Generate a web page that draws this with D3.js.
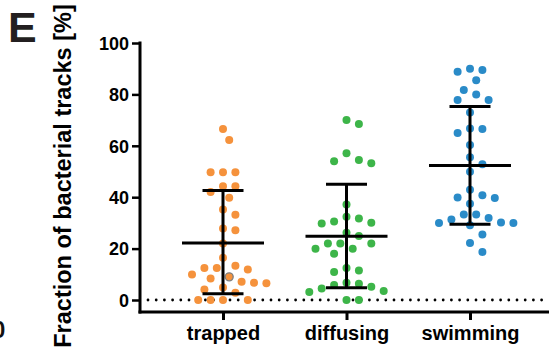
<!DOCTYPE html>
<html><head><meta charset="utf-8">
<script src="https://cdn.jsdelivr.net/npm/d3@7"></script>
<style>body{margin:0;background:#fff}svg{display:block}text{font-family:"Liberation Sans",Arial,sans-serif;font-weight:bold}</style>
</head><body><svg id="c" width="549" height="350"></svg>
<script>
const categories = ["trapped", "diffusing", "swimming"];
const trapped = [66.5, 62.3, 49.7, 49.7, 49.7, 44.3, 44.3, 42.0, 39.8, 35.2, 33.2, 27.8, 27.1, 22.0, 16.4, 13.3, 12.5, 11.9, 12.5, 9.0, 9.9, 8.4, 7.1, 6.5, 6.7, 4.9, 4.1, 2.8, 0, 0, 0, 0];
const diffusing = [70.0, 68.5, 57.1, 54.5, 54.0, 53.2, 37.2, 32.4, 31.7, 30.5, 30.1, 29.8, 26.2, 24.9, 22.0, 22.0, 22.0, 19.9, 19.9, 18.0, 12.5, 11.5, 10.9, 6.7, 6.3, 5.8, 5.2, 4.5, 3.5, 3.1, 0, 0];
const swimming = [90.0, 89.5, 88.8, 85.5, 81.7, 80.0, 77.8, 77.8, 73.0, 66.7, 66.5, 65.0, 60.3, 55.5, 52.8, 49.9, 42.9, 40.8, 39.9, 39.7, 37.5, 33.3, 33.3, 31.9, 31.3, 30.2, 30.0, 30.0, 29.1, 25.5, 22.2, 18.7];
const means = [22.2, 24.8, 52.3];
const sdLow = [2.4, 4.8, 29.5];
const sdHigh = [42.6, 45.0, 75.3];
const yTicks = [0, 20, 40, 60, 80, 100];
const colors = ["#F5923C", "#3DB549", "#2A8BC8"];
const series = [trapped, diffusing, swimming];
const highlighted = {cat: 0, value: 9.0};

const svg = d3.select("#c");
const y = d3.scaleLinear().domain([0, 100]).range([300, 43]);
const x = d3.scalePoint().domain(categories).range([223, 470]);
const axisX0 = 140, axisY0 = 312;

// panel letter and fragment of neighbouring panel
svg.append("text").attr("x", 8).attr("y", 42).attr("font-size", 43).attr("fill", "#231f20").text("E");
svg.append("text").attr("x", -7.5).attr("y", 338).attr("font-size", 23).attr("fill", "#111").text("0");

// y label
svg.append("text").attr("transform", "translate(71,176) rotate(-90)").attr("text-anchor", "middle")
  .attr("font-size", 23.5).attr("fill", "#000").text("Fraction of bacterial tracks [%]");

// zero dotted line
svg.append("line").attr("x1", 148).attr("x2", 549).attr("y1", y(0)).attr("y2", y(0))
  .attr("stroke", "#000").attr("stroke-width", 2.8).attr("stroke-dasharray", "0,8.2").attr("stroke-linecap", "round");

// y axis
const yAx = svg.append("g").attr("transform", `translate(${axisX0},0)`)
  .call(d3.axisLeft(y).tickValues(yTicks).tickSize(8).tickPadding(3).tickSizeOuter(0));
yAx.select(".domain").remove();
yAx.append("line").attr("x1", 0).attr("x2", 0).attr("y1", y(100) - 1.5).attr("y2", axisY0 + 1.5).attr("stroke", "#000").attr("stroke-width", 3);
yAx.selectAll(".tick line").attr("stroke-width", 2.5);
yAx.selectAll(".tick text").attr("font-size", 18).attr("fill", "#000").attr("dy", "0.35em").attr("font-family", '"Liberation Sans",Arial,sans-serif');

// x axis
const xAx = svg.append("g").attr("transform", `translate(0,${axisY0})`)
  .call(d3.axisBottom(x).tickSize(8).tickPadding(6).tickSizeOuter(0));
xAx.select(".domain").remove();
xAx.append("line").attr("x1", axisX0 - 1.5).attr("x2", 549).attr("y1", 0).attr("y2", 0).attr("stroke", "#000").attr("stroke-width", 3);
xAx.selectAll(".tick line").attr("stroke-width", 3);
xAx.selectAll(".tick text").attr("font-size", 20).attr("fill", "#000").attr("font-family", '"Liberation Sans",Arial,sans-serif');

// beeswarm layout
const r = 4, step = 6.2, minD = 11.6;
function swarm(vals, cx) {
  const pts = vals.map((v, i) => ({v, i, py: y(v)})).sort((a, b) => b.v - a.v);
  const placed = [];
  pts.forEach(p => {
    for (let k = 0; k < 40; k++) {
      const off = k === 0 ? 0 : (k % 2 ? 1 : -1) * Math.ceil(k / 2) * step;
      const ok = placed.every(q => Math.hypot(q.px - (cx + off), q.py - p.py) >= minD);
      if (ok) { p.px = cx + off; break; }
    }
    placed.push(p);
  });
  return placed;
}

series.forEach((vals, ci) => {
  const cx = x(categories[ci]);
  const pts = swarm(vals, cx);
  svg.append("g").selectAll("circle").data(pts).join("circle")
    .attr("cx", d => d.px).attr("cy", d => d.py).attr("r", r)
    .attr("fill", colors[ci])
    .attr("stroke", d => (ci === highlighted.cat && d.v === highlighted.value) ? "#7f7f7f" : "none")
    .attr("stroke-width", 1.3);
});

// mean and SD bars
categories.forEach((c, ci) => {
  const cx = x(c);
  const g = svg.append("g").attr("stroke", "#000").attr("stroke-width", 3);
  g.append("line").attr("x1", cx).attr("x2", cx).attr("y1", y(sdHigh[ci])).attr("y2", y(sdLow[ci]));
  g.append("line").attr("x1", cx - 20.5).attr("x2", cx + 20.5).attr("y1", y(sdHigh[ci])).attr("y2", y(sdHigh[ci]));
  g.append("line").attr("x1", cx - 20.5).attr("x2", cx + 20.5).attr("y1", y(sdLow[ci])).attr("y2", y(sdLow[ci]));
  g.append("line").attr("x1", cx - 41).attr("x2", cx + 41).attr("y1", y(means[ci])).attr("y2", y(means[ci]));
});
</script></body></html>
